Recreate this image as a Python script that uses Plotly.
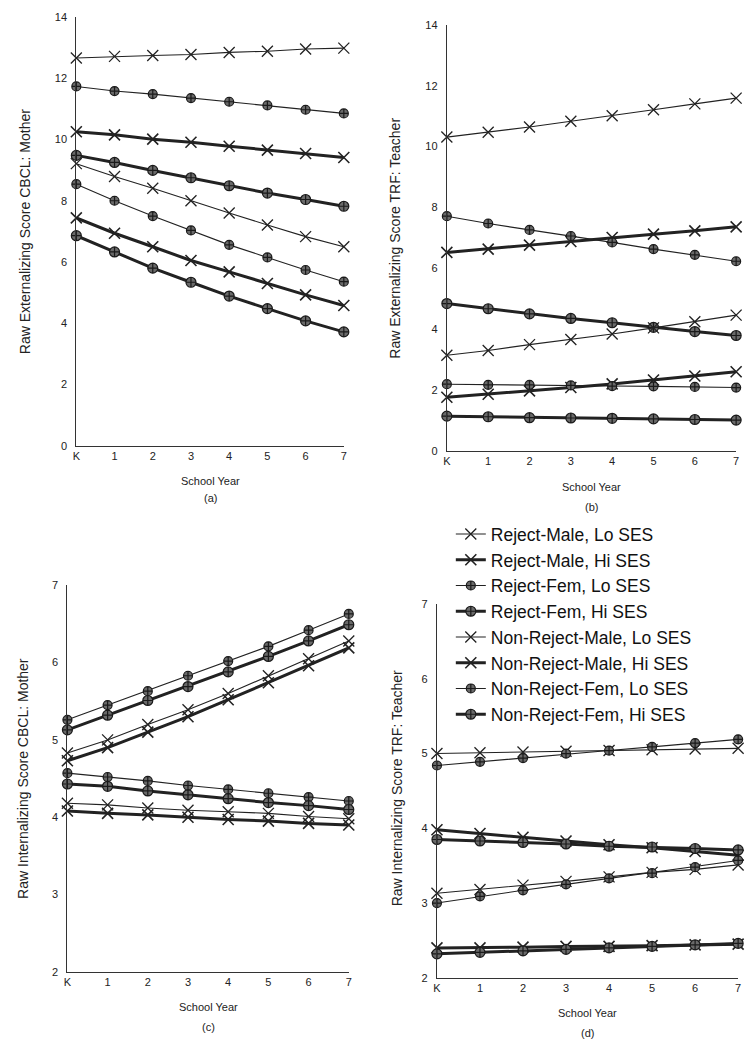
import plotly.graph_objects as go

W, H = 755, 1050

# ---------------- data ----------------
school_years = [0, 1, 2, 3, 4, 5, 6, 7]
year_labels = ["K", "1", "2", "3", "4", "5", "6", "7"]

series_names = [
    "Reject-Male, Lo SES", "Reject-Male, Hi SES",
    "Reject-Fem, Lo SES", "Reject-Fem, Hi SES",
    "Non-Reject-Male, Lo SES", "Non-Reject-Male, Hi SES",
    "Non-Reject-Fem, Lo SES", "Non-Reject-Fem, Hi SES",
]

# (a) Raw Externalizing Score CBCL: Mother
a_rm_lo = [12.66, 12.71, 12.74, 12.77, 12.84, 12.88, 12.95, 12.98]
a_rm_hi = [10.25, 10.15, 10.01, 9.91, 9.78, 9.65, 9.54, 9.41]
a_rf_lo = [11.73, 11.58, 11.48, 11.35, 11.23, 11.11, 10.97, 10.85]
a_rf_hi = [9.48, 9.25, 8.99, 8.75, 8.49, 8.25, 8.04, 7.82]
a_nm_lo = [9.21, 8.79, 8.41, 8.00, 7.60, 7.21, 6.83, 6.50]
a_nm_hi = [7.44, 6.94, 6.50, 6.05, 5.68, 5.30, 4.93, 4.58]
a_nf_lo = [8.54, 8.00, 7.50, 7.03, 6.56, 6.15, 5.74, 5.36]
a_nf_hi = [6.86, 6.33, 5.80, 5.34, 4.89, 4.48, 4.08, 3.72]

# (b) Raw Externalizing Score TRF: Teacher
b_rm_lo = [10.31, 10.47, 10.64, 10.83, 11.01, 11.21, 11.40, 11.59]
b_rm_hi = [6.52, 6.63, 6.76, 6.88, 7.01, 7.12, 7.23, 7.36]
b_rf_lo = [7.71, 7.47, 7.26, 7.06, 6.85, 6.63, 6.44, 6.23]
b_rf_hi = [4.84, 4.67, 4.50, 4.35, 4.21, 4.06, 3.92, 3.79]
b_nm_lo = [3.14, 3.30, 3.49, 3.66, 3.84, 4.04, 4.24, 4.46]
b_nm_hi = [1.76, 1.86, 1.97, 2.08, 2.20, 2.33, 2.46, 2.60]
b_nf_lo = [2.19, 2.17, 2.17, 2.15, 2.13, 2.12, 2.10, 2.08]
b_nf_hi = [1.14, 1.12, 1.09, 1.08, 1.07, 1.05, 1.03, 1.01]

# (c) Raw Internalizing Score CBCL: Mother
c_rm_lo = [4.83, 5.00, 5.20, 5.39, 5.60, 5.83, 6.05, 6.28]
c_rm_hi = [4.73, 4.90, 5.10, 5.30, 5.52, 5.74, 5.96, 6.19]
c_rf_lo = [5.26, 5.45, 5.63, 5.83, 6.02, 6.21, 6.42, 6.63]
c_rf_hi = [5.13, 5.32, 5.51, 5.69, 5.88, 6.08, 6.28, 6.49]
c_nm_lo = [4.18, 4.16, 4.12, 4.09, 4.07, 4.05, 4.01, 3.98]
c_nm_hi = [4.08, 4.05, 4.03, 4.00, 3.97, 3.95, 3.92, 3.90]
c_nf_lo = [4.57, 4.52, 4.47, 4.41, 4.36, 4.31, 4.26, 4.21]
c_nf_hi = [4.43, 4.40, 4.34, 4.29, 4.24, 4.19, 4.15, 4.10]

# (d) Raw Internalizing Score TRF: Teacher
d_rm_lo = [5.00, 5.01, 5.02, 5.03, 5.04, 5.05, 5.06, 5.07]
d_rm_hi = [3.98, 3.93, 3.88, 3.83, 3.78, 3.74, 3.69, 3.64]
d_rf_lo = [4.84, 4.89, 4.94, 5.00, 5.04, 5.09, 5.14, 5.19]
d_rf_hi = [3.85, 3.83, 3.81, 3.79, 3.76, 3.75, 3.73, 3.71]
d_nm_lo = [3.13, 3.18, 3.24, 3.29, 3.35, 3.41, 3.45, 3.51]
d_nm_hi = [2.40, 2.40, 2.41, 2.42, 2.42, 2.43, 2.44, 2.45]
d_nf_lo = [3.00, 3.09, 3.17, 3.25, 3.33, 3.40, 3.48, 3.57]
d_nf_hi = [2.32, 2.34, 2.36, 2.38, 2.40, 2.42, 2.44, 2.46]

panel_a = [a_rm_lo, a_rm_hi, a_rf_lo, a_rf_hi, a_nm_lo, a_nm_hi, a_nf_lo, a_nf_hi]
panel_b = [b_rm_lo, b_rm_hi, b_rf_lo, b_rf_hi, b_nm_lo, b_nm_hi, b_nf_lo, b_nf_hi]
panel_c = [c_rm_lo, c_rm_hi, c_rf_lo, c_rf_hi, c_nm_lo, c_nm_hi, c_nf_lo, c_nf_hi]
panel_d = [d_rm_lo, d_rm_hi, d_rf_lo, d_rf_hi, d_nm_lo, d_nm_hi, d_nf_lo, d_nf_hi]

y_titles = [
    "Raw Externalizing Score CBCL: Mother",
    "Raw Externalizing Score TRF: Teacher",
    "Raw Internalizing Score CBCL: Mother",
    "Raw Internalizing Score TRF: Teacher",
]
panel_letters = ["(a)", "(b)", "(c)", "(d)"]

# ---------------- styling ----------------
FONT = "Liberation Sans, Arial, sans-serif"
INK = "#222222"


def px(x):
    return x / W


def py(y):
    return 1 - y / H


# pixel boxes: (left, right, top, bottom)
boxes = [
    (73, 343, 11, 445),
    (447, 739, 19, 450),
    (64, 348, 586, 977),
    (437, 741, 605, 983),
]
yranges = [[0, 14], [0, 14], [2, 7], [2, 7]]
ytickvals = [[0, 2, 4, 6, 8, 10, 12, 14], [0, 2, 4, 6, 8, 10, 12, 14],
             [2, 3, 4, 5, 6, 7], [2, 3, 4, 5, 6, 7]]
ytitle_pos = [(22, 228), (395, 235), (19, 781), (397, 791)]
xlabel_y = [480, 487, 1013, 1019]
letter_y = [498, 507, 1033, 1039]


def style(i):
    thick = i % 2 == 1
    is_x = (i // 2) % 2 == 0
    lw = 3 if thick else 1.1
    if is_x:
        marker = dict(symbol="x-thin", size=11,
                      line=dict(color=INK, width=1.3 if not thick else 1.6),
                      color=INK)
    else:
        marker = dict(symbol="circle-cross", size=9 if not thick else 10,
                      color="#6a6a6a", line=dict(color="#1a1a1a", width=1.2))
    return dict(color=INK, width=lw), marker


fig = go.Figure()
panels = [panel_a, panel_b, panel_c, panel_d]
for p, data in enumerate(panels):
    ax = "" if p == 0 else str(p + 1)
    for i, vals in enumerate(data):
        line, marker = style(i)
        fig.add_trace(go.Scatter(
            x=school_years, y=vals, mode="lines+markers",
            name=series_names[i], legendgroup=series_names[i],
            showlegend=(p == 0), line=line, marker=marker,
            cliponaxis=False,
            xaxis="x" + ax, yaxis="y" + ax,
        ))

layout = dict(
    width=W, height=H, margin=dict(l=0, r=0, t=0, b=0),
    paper_bgcolor="white", plot_bgcolor="white",
    font=dict(family=FONT, color=INK, size=11),
    showlegend=True,
    legend=dict(x=px(451), y=py(516), xanchor="left", yanchor="top",
                bgcolor="rgba(0,0,0,0)", font=dict(size=17.5, family=FONT, color="#111"),
                tracegroupgap=0, itemwidth=30),
)

annotations = []
for p, (l, r, t, b) in enumerate(boxes):
    ax = "" if p == 0 else str(p + 1)
    layout["xaxis" + ax] = dict(
        domain=[px(l), px(r)], range=[0, 7], anchor="y" + ax,
        tickvals=school_years, ticktext=year_labels,
        showline=True, linecolor="#333", linewidth=1.2,
        showgrid=False, zeroline=False, ticks="",
        tickfont=dict(size=11, family=FONT), fixedrange=True,
    )
    layout["yaxis" + ax] = dict(
        domain=[py(b), py(t)], range=yranges[p], anchor="x" + ax,
        tickvals=ytickvals[p],
        showline=True, linecolor="#333", linewidth=1.2,
        showgrid=False, zeroline=False, ticks="",
        ticklabelstandoff=6,
        tickfont=dict(size=11, family=FONT), fixedrange=True,
    )
    cx = (l + r) / 2
    annotations.append(dict(text="School Year", x=px(cx), y=py(xlabel_y[p]),
                            xref="paper", yref="paper", showarrow=False,
                            xanchor="center", yanchor="middle",
                            font=dict(size=11, family=FONT)))
    annotations.append(dict(text=panel_letters[p], x=px(cx), y=py(letter_y[p]),
                            xref="paper", yref="paper", showarrow=False,
                            xanchor="center", yanchor="middle",
                            font=dict(size=11, family=FONT)))
    tx, ty = ytitle_pos[p]
    annotations.append(dict(text=y_titles[p], x=px(tx), y=py(ty),
                            xref="paper", yref="paper", showarrow=False,
                            xanchor="center", yanchor="middle",
                            textangle=-90, font=dict(size=14, family=FONT)))

layout["annotations"] = annotations
fig.update_layout(**layout)
fig.write_html("out.html", config={"displayModeBar": False},
               post_script="document.body.style.margin='0px';document.body.style.overflow='hidden';")
